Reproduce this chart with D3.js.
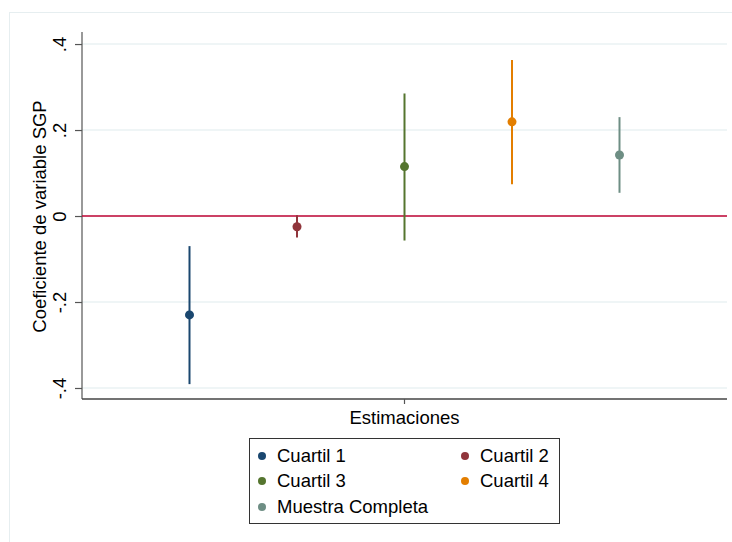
<!DOCTYPE html>
<html>
<head>
<meta charset="utf-8">
<script src="https://cdn.jsdelivr.net/npm/d3@7"></script>
<style>
  html, body { margin: 0; padding: 0; background: #ffffff; }
  svg { display: block; font-family: "Liberation Sans", Arial, sans-serif; }
</style>
</head>
<body>
<svg id="chart" width="732" height="542"></svg>
<script>
// Coefficient estimates of the SGP variable by quartile, with confidence intervals
const series = ["Cuartil 1", "Cuartil 2", "Cuartil 3", "Cuartil 4", "Muestra Completa"];
const estimates = [-0.230, -0.025, 0.115, 0.219, 0.142];
const lowerCI = [-0.391, -0.050, -0.057, 0.074, 0.054];
const upperCI = [-0.070, 0.002, 0.285, 0.363, 0.230];
const colors = ["#1a476f", "#90353b", "#55752f", "#e37e00", "#6e8e84"];
const yTicks = [-0.4, -0.2, 0, 0.2, 0.4];
const yTickLabels = ["-.4", "-.2", "0", ".2", ".4"];
const categoryLabel = "Estimaciones";
const yTitle = "Coeficiente de variable SGP";

const fontSize = 18.5;
const svg = d3.select("#chart");

// outer graph frame
svg.append("rect")
  .attr("x", 9.5).attr("y", 12.5)
  .attr("width", 740).attr("height", 540)
  .attr("fill", "#ffffff")
  .attr("stroke", "#e6eef0").attr("stroke-width", 1);

const plot = { left: 82, right: 727, top: 32, bottom: 399 };

const y = d3.scaleLinear()
  .domain([-0.4256, 0.428])
  .range([plot.bottom, plot.top]);

const x = d3.scalePoint()
  .domain(series)
  .range([plot.left, plot.right])
  .padding(1);

// horizontal grid lines
svg.append("g")
  .selectAll("line")
  .data(yTicks)
  .join("line")
  .attr("x1", plot.left).attr("x2", plot.right)
  .attr("y1", d => y(d)).attr("y2", d => y(d))
  .attr("stroke", "#eaf2f3").attr("stroke-width", 1.5);

// y axis
const yAxis = d3.axisLeft(y)
  .tickValues(yTicks)
  .tickFormat((d, i) => yTickLabels[i])
  .tickSize(7);

const yg = svg.append("g")
  .attr("transform", `translate(${plot.left},0)`)
  .call(yAxis);
yg.select(".domain")
  .attr("d", `M0,${plot.top}V${plot.bottom}`)
  .attr("stroke", "#555555").attr("stroke-width", 1.2);
yg.selectAll(".tick line").attr("stroke", "#555555").attr("stroke-width", 1.2);
yg.selectAll(".tick text")
  .attr("font-size", fontSize)
  .attr("fill", "#000000")
  .attr("text-anchor", "middle")
  .attr("x", -22)
  .attr("y", 0)
  .attr("dy", "0.35em")
  .attr("transform", "rotate(-90, -22, 0)");

// x axis: single category centred on the plot
const xCenter = (plot.left + plot.right) / 2;
svg.append("line")
  .attr("x1", plot.left).attr("x2", plot.right)
  .attr("y1", plot.bottom).attr("y2", plot.bottom)
  .attr("stroke", "#444444").attr("stroke-width", 1.5);
svg.append("line")
  .attr("x1", xCenter).attr("x2", xCenter)
  .attr("y1", plot.bottom).attr("y2", plot.bottom + 5)
  .attr("stroke", "#555555").attr("stroke-width", 1.2);
svg.append("text")
  .attr("x", xCenter).attr("y", 424)
  .attr("text-anchor", "middle")
  .attr("font-size", fontSize)
  .attr("fill", "#000000")
  .text(categoryLabel);

// y axis title
svg.append("text")
  .attr("transform", `translate(46, ${(plot.top + plot.bottom) / 2 + 1}) rotate(-90)`)
  .attr("text-anchor", "middle")
  .attr("font-size", fontSize)
  .attr("fill", "#000000")
  .text(yTitle);

// reference line at zero
svg.append("line")
  .attr("x1", plot.left).attr("x2", plot.right)
  .attr("y1", y(0)).attr("y2", y(0))
  .attr("stroke", "#c10534").attr("stroke-width", 1.6);

// confidence intervals and point estimates
const data = series.map((s, i) => ({
  name: s, est: estimates[i], lo: lowerCI[i], hi: upperCI[i], color: colors[i]
}));

const marks = svg.append("g");
marks.selectAll("line.ci")
  .data(data)
  .join("line")
  .attr("class", "ci")
  .attr("x1", d => x(d.name)).attr("x2", d => x(d.name))
  .attr("y1", d => y(d.lo)).attr("y2", d => y(d.hi))
  .attr("stroke", d => d.color).attr("stroke-width", 2);
marks.selectAll("circle.pt")
  .data(data)
  .join("circle")
  .attr("class", "pt")
  .attr("cx", d => x(d.name)).attr("cy", d => y(d.est))
  .attr("r", 4.5)
  .attr("fill", d => d.color);

// legend
const legend = svg.append("g");
legend.append("rect")
  .attr("x", 249.5).attr("y", 438.5)
  .attr("width", 310).attr("height", 85)
  .attr("fill", "#ffffff")
  .attr("stroke", "#333333").attr("stroke-width", 1);

const colX = [262, 465];
const rowY = [456, 481, 507];
const items = legend.selectAll("g.item")
  .data(data)
  .join("g")
  .attr("class", "item")
  .attr("transform", (d, i) => `translate(${colX[i % 2]}, ${rowY[Math.floor(i / 2)]})`);
items.append("circle")
  .attr("r", 4)
  .attr("fill", d => d.color);
items.append("text")
  .attr("x", 15).attr("y", 0)
  .attr("dy", "0.35em")
  .attr("font-size", fontSize)
  .attr("fill", "#000000")
  .text(d => d.name);
</script>
</body>
</html>
